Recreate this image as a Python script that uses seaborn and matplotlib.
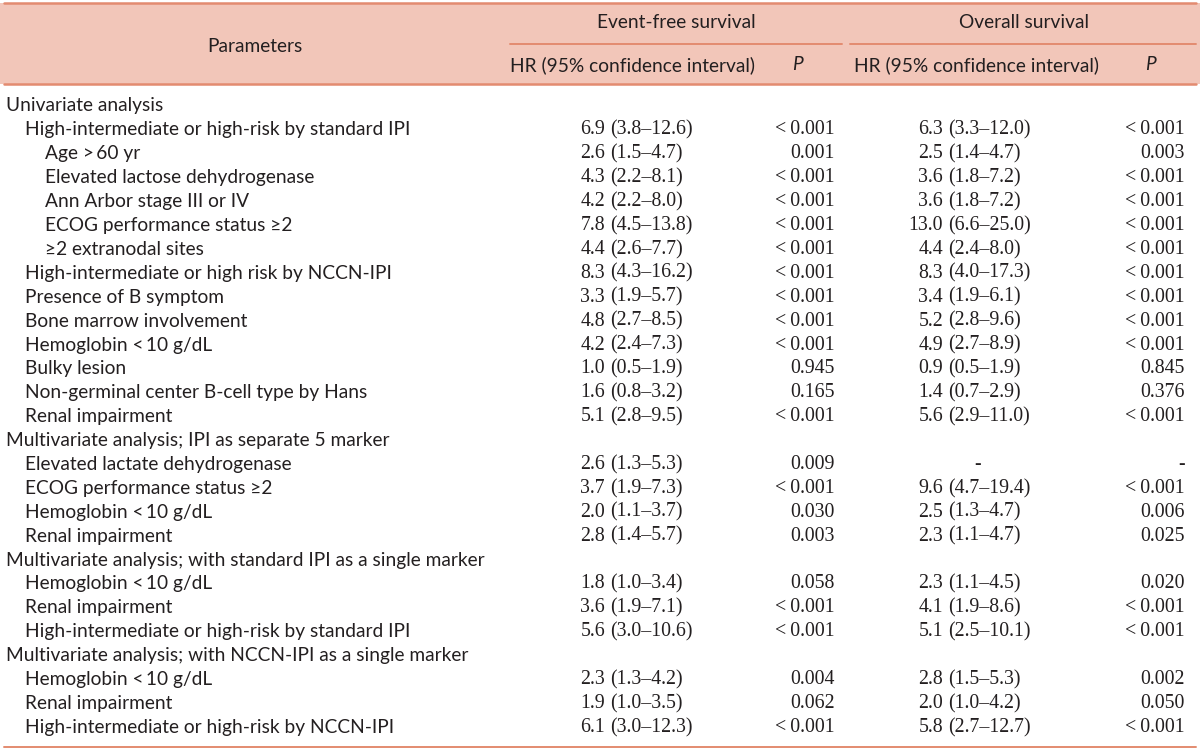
import matplotlib
matplotlib.use("Agg")
import matplotlib.pyplot as plt
import seaborn as sns

# table content
labels = [
    "Univariate analysis",
    "High-intermediate or high-risk by standard IPI",
    "Age >\u200960 yr",
    "Elevated lactose dehydrogenase",
    "Ann Arbor stage III or IV",
    "ECOG performance status ≥2",
    "≥2 extranodal sites",
    "High-intermediate or high risk by NCCN-IPI",
    "Presence of B symptom",
    "Bone marrow involvement",
    "Hemoglobin <\u200910 g/dL",
    "Bulky lesion",
    "Non-germinal center B-cell type by Hans",
    "Renal impairment",
    "Multivariate analysis; IPI as separate 5 marker",
    "Elevated lactate dehydrogenase",
    "ECOG performance status ≥2",
    "Hemoglobin <\u200910 g/dL",
    "Renal impairment",
    "Multivariate analysis; with standard IPI as a single marker",
    "Hemoglobin <\u200910 g/dL",
    "Renal impairment",
    "High-intermediate or high-risk by standard IPI",
    "Multivariate analysis; with NCCN-IPI as a single marker",
    "Hemoglobin <\u200910 g/dL",
    "Renal impairment",
    "High-intermediate or high-risk by NCCN-IPI",
]
levels = [0, 1, 2, 2, 2, 2, 2, 1, 1, 1, 1, 1, 1, 1,
          0, 1, 1, 1, 1, 0, 1, 1, 1, 0, 1, 1, 1]
efs_hr = ["", "6.9 (3.8–12.6)", "2.6 (1.5–4.7)", "4.3 (2.2–8.1)", "4.2 (2.2–8.0)",
          "7.8 (4.5–13.8)", "4.4 (2.6–7.7)", "8.3 (4.3–16.2)", "3.3 (1.9–5.7)",
          "4.8 (2.7–8.5)", "4.2 (2.4–7.3)", "1.0 (0.5–1.9)", "1.6 (0.8–3.2)",
          "5.1 (2.8–9.5)", "", "2.6 (1.3–5.3)", "3.7 (1.9–7.3)", "2.0 (1.1–3.7)",
          "2.8 (1.4–5.7)", "", "1.8 (1.0–3.4)", "3.6 (1.9–7.1)", "5.6 (3.0–10.6)",
          "", "2.3 (1.3–4.2)", "1.9 (1.0–3.5)", "6.1 (3.0–12.3)"]
efs_p = ["", "<0.001", "0.001", "<0.001", "<0.001", "<0.001", "<0.001", "<0.001",
         "<0.001", "<0.001", "<0.001", "0.945", "0.165", "<0.001", "", "0.009",
         "<0.001", "0.030", "0.003", "", "0.058", "<0.001", "<0.001", "", "0.004",
         "0.062", "<0.001"]
os_hr = ["", "6.3 (3.3–12.0)", "2.5 (1.4–4.7)", "3.6 (1.8–7.2)", "3.6 (1.8–7.2)",
         "13.0 (6.6–25.0)", "4.4 (2.4–8.0)", "8.3 (4.0–17.3)", "3.4 (1.9–6.1)",
         "5.2 (2.8–9.6)", "4.9 (2.7–8.9)", "0.9 (0.5–1.9)", "1.4 (0.7–2.9)",
         "5.6 (2.9–11.0)", "", "-", "9.6 (4.7–19.4)", "2.5 (1.3–4.7)",
         "2.3 (1.1–4.7)", "", "2.3 (1.1–4.5)", "4.1 (1.9–8.6)", "5.1 (2.5–10.1)",
         "", "2.8 (1.5–5.3)", "2.0 (1.0–4.2)", "5.8 (2.7–12.7)"]
os_p = ["", "<0.001", "0.003", "<0.001", "<0.001", "<0.001", "<0.001", "<0.001",
        "<0.001", "<0.001", "<0.001", "0.845", "0.376", "<0.001", "", "-",
        "<0.001", "0.006", "0.025", "", "0.020", "<0.001", "<0.001", "", "0.002",
        "0.050", "<0.001"]
groups = ["Event-free survival", "Overall survival"]
subheaders = ["HR (95% confidence interval)", "P"]

# style
sns.set_theme(style="white")
plt.rcParams["font.family"] = ["Lato", "DejaVu Sans"]
text_color = "#231f20"
line_color = "#e38b70"
header_bg = "#f2c6b9"
label_font = ["Lato", "DejaVu Sans"]
value_font = ["Liberation Serif", "DejaVu Serif"]
fs = 13.8
fs_val = 14.3

fig = plt.figure(figsize=(12, 7.5), dpi=100)
ax = fig.add_axes([0, 0, 1, 1])
ax.set_xlim(0, 1200)
ax.set_ylim(750, 0)
ax.axis("off")

row_top = 106
row_h = 23.9

# header block
ax.axhspan(3, 84, color=header_bg, lw=0)
ax.plot([4, 1196], [3, 3], color=line_color, lw=1.8)
ax.plot([4, 1196], [84, 84], color=line_color, lw=1.8)
ax.plot([510, 842], [44, 44], color=line_color, lw=1.4)
ax.plot([850, 1196], [44, 44], color=line_color, lw=1.4)
ax.plot([4, 1196], [747, 747], color=line_color, lw=1.4)

ax.text(255, 46, "Parameters", ha="center", va="center", fontsize=fs,
        family=label_font, color=text_color)
ax.text(676, 23, groups[0], ha="center", va="center", fontsize=fs,
        family=label_font, color=text_color)
ax.text(1024, 23, groups[1], ha="center", va="center", fontsize=fs,
        family=label_font, color=text_color)
ax.text(633, 65, subheaders[0], ha="center", va="center", fontsize=fs,
        family=label_font, color=text_color)
ax.text(976, 65, subheaders[0], ha="center", va="center", fontsize=fs,
        family=label_font, color=text_color)
ax.text(797, 65, subheaders[1], ha="center", va="center", fontsize=fs,
        family=label_font, style="italic", color=text_color)
ax.text(1150, 65, subheaders[1], ha="center", va="center", fontsize=fs,
        family=label_font, style="italic", color=text_color)

indent = [6, 25, 45]


def draw_hr(x_num_end, y, s):
    # number right-aligned, interval left-aligned, so decimals line up
    if s == "-":
        ax.text(x_num_end + 35, y, s, ha="center", va="center", fontsize=fs_val,
                family=value_font, color=text_color)
        return
    num, ci = s.split(" ", 1)
    ax.text(x_num_end, y, num, ha="right", va="center", fontsize=fs_val,
            family=value_font, color=text_color)
    ax.text(x_num_end + 5, y, ci, ha="left", va="center", fontsize=fs_val,
            family=value_font, color=text_color)


def draw_p(x_right, y, s):
    if s.startswith("<"):
        s = "<\u2009" + s[1:]
    ax.text(x_right, y, s, ha="right", va="center", fontsize=fs_val,
            family=value_font, color=text_color)


for i, lab in enumerate(labels):
    y = row_top + i * row_h
    ax.text(indent[levels[i]], y, lab, ha="left", va="center", fontsize=fs,
            family=label_font, color=text_color)
    if efs_hr[i]:
        draw_hr(605, y, efs_hr[i])
    if efs_p[i]:
        draw_p(835, y, efs_p[i])
    if os_hr[i]:
        draw_hr(943, y, os_hr[i])
    if os_p[i]:
        draw_p(1185, y, os_p[i])

fig.savefig("out.png", dpi=100, facecolor="white")
